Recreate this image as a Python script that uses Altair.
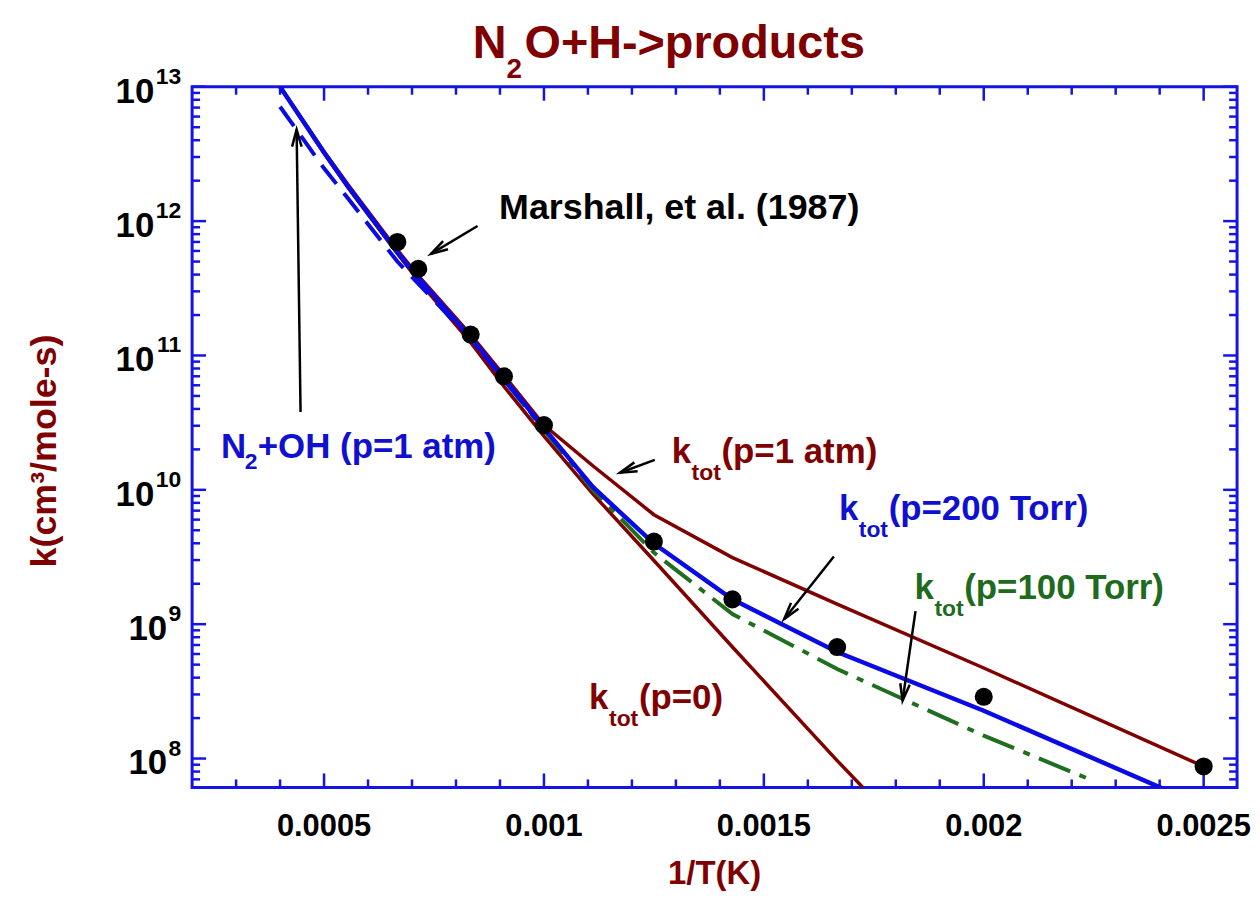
import math
import altair as alt
import pandas as pd

# ---------------- data ----------------
# curves: temperature nodes (K) and rate constants k (cm3/mole-s)
T_200torr = [2500, 2000, 1800, 1500, 1400, 1200, 1100, 1000, 900, 800, 700, 600, 500, 400]
k_200torr = [1.0e13, 3.24e12, 1.79e12, 5.85e11, 3.78e11, 1.36e11, 6.76e10, 2.88e10,
             1.05e10, 3.98e9, 1.53e9, 6.2e8, 2.27e8, 4.41e7]

T_1atm = [2500, 2000, 1800, 1500, 1400, 1200, 1100, 1000, 900, 800, 700, 600, 500, 400]
k_1atm = [1.0e13, 3.3e12, 1.85e12, 6.1e11, 3.92e11, 1.43e11, 7.11e10, 3.03e10,
          1.51e10, 6.53e9, 3.13e9, 1.41e9, 4.72e8, 8.73e7]

T_p0 = [2500, 2000, 1800, 1500, 1400, 1200, 1100, 1000, 900, 800, 700, 600, 500]
k_p0 = [1.0e13, 3.2e12, 1.76e12, 5.75e11, 3.6e11, 1.25e11, 5.89e10, 2.51e10,
        9.33e9, 2.98e9, 6.76e8, 9.66e7, 6.98e6]

T_100torr = [1100, 1000, 900, 800, 700, 600, 500, 444]
k_100torr = [6.6e10, 2.78e10, 1.0e10, 3.41e9, 1.19e9, 4.64e8, 1.48e8, 6.76e7]

T_n2oh = [2500, 2000, 1800, 1500, 1200, 1000]
k_n2oh = [7.1e12, 2.47e12, 1.46e12, 5.0e11, 1.33e11, 2.85e10]

# Marshall et al. (1987) measurements
T_marshall = [1500, 1400, 1200, 1100, 1000, 800, 700, 600, 500, 400]
k_marshall = [6.99e11, 4.41e11, 1.43e11, 6.99e10, 3.03e10, 4.12e9, 1.53e9, 6.76e8, 2.88e8, 8.73e7]

# axis ticks / labels
x_major = [0.0005, 0.001, 0.0015, 0.002, 0.0025]
x_labels = ["0.0005", "0.001", "0.0015", "0.002", "0.0025"]
x_minor = [round(i * 1e-4, 4) for i in range(3, 26) if i % 5 != 0]
y_exps = [13, 12, 11, 10, 9, 8]
y_major = [10.0 ** e for e in y_exps]
y_minor = [m * 10.0 ** e for e in range(7, 13) for m in range(2, 10) if 6.1e7 <= m * 10.0 ** e <= 1e13]

# annotations (data coordinates: 1/T, k)
arrow_tail_x = [0.000849, 0.0004466, 0.001252, 0.0016592, 0.0018448]
arrow_tail_k = [9.19e11, 3.79e10, 1.67e10, 3.19e9, 1.25e9]
arrow_tip_x = [0.000743, 0.0004376, 0.001173, 0.0015461, 0.0018154]
arrow_tip_k = [5.7e11, 4.8e12, 1.34e10, 1.09e9, 2.69e8]

ktot_text = ["(p=1 atm)", "(p=200 Torr)", "(p=100 Torr)", "(p=0)"]
ktot_x = [0.0012905, 0.0016706, 0.0018425, 0.0011027]
ktot_k = [1.585e10, 5.99e9, 1.53e9, 2.34e8]

marshall_label = "Marshall, et al. (1987)"
marshall_x, marshall_k = 0.000898, 1.03e12
n2oh_parts = ["N", "2", "+OH (p=1 atm)"]
n2oh_x, n2oh_k = 0.0002656, 1.73e10

# ---------------- styling ----------------
FONT = "Liberation Sans"
BROWN = "#800000"
BLUE = "#0a0ae6"
FRAME = "#1414e6"
GREEN = "#1f6f1f"
TXT_BLUE = "#1010d0"
TXT_GREEN = "#1e6b1e"
ktot_color = [BROWN, TXT_BLUE, TXT_GREEN, BROWN]

W, H = 1050, 704
X_DOMAIN = [0.0002, 0.002576]
Y_DOMAIN = [6.1e7, 1e13]
xs = alt.Scale(domain=X_DOMAIN, nice=False, zero=False)
ys = alt.Scale(type="log", domain=Y_DOMAIN, nice=False)


def X(field="x"):
    return alt.X(f"{field}:Q", scale=xs, axis=None)


def Y(field="k"):
    return alt.Y(f"{field}:Q", scale=ys, axis=None)


def series_df(T, k):
    return pd.DataFrame({"x": [1.0 / t for t in T], "k": k})


def px(v):
    return (v - X_DOMAIN[0]) / (X_DOMAIN[1] - X_DOMAIN[0]) * W


def py(k):
    lo, hi = math.log10(Y_DOMAIN[0]), math.log10(Y_DOMAIN[1])
    return (hi - math.log10(k)) / (hi - lo) * H


# ---------------- frame ticks (inward, all four sides) ----------------
MAJ, MIN = 14, 8
tick_style = dict(color=FRAME, strokeWidth=2.5)

dfxM = pd.DataFrame({"x": x_major, "lab": x_labels})
dfxm = pd.DataFrame({"x": x_minor})
dfyM = pd.DataFrame({"k": y_major})
dfym = pd.DataFrame({"k": y_minor})

ticks = [
    alt.Chart(dfxM).mark_rule(**tick_style).encode(x=X(), y=alt.value(H), y2=alt.value(H - MAJ)),
    alt.Chart(dfxm).mark_rule(**tick_style).encode(x=X(), y=alt.value(H), y2=alt.value(H - MIN)),
    alt.Chart(dfxM).mark_rule(**tick_style).encode(x=X(), y=alt.value(0), y2=alt.value(MAJ)),
    alt.Chart(dfxm).mark_rule(**tick_style).encode(x=X(), y=alt.value(0), y2=alt.value(MIN)),
    alt.Chart(dfyM).mark_rule(**tick_style).encode(y=Y(), x=alt.value(0), x2=alt.value(MAJ)),
    alt.Chart(dfym).mark_rule(**tick_style).encode(y=Y(), x=alt.value(0), x2=alt.value(MIN)),
    alt.Chart(dfyM).mark_rule(**tick_style).encode(y=Y(), x=alt.value(W), x2=alt.value(W - MAJ)),
    alt.Chart(dfym).mark_rule(**tick_style).encode(y=Y(), x=alt.value(W), x2=alt.value(W - MIN)),
]

# x tick labels
xlabels = [
    alt.Chart(dfxM).mark_text(font=FONT, fontWeight="bold", fontSize=31, color="black",
                              align="center", baseline="alphabetic").encode(
        x=X(), y=alt.value(H + 49), text="lab:N"),
]

# y tick labels 10^n
dfyl = pd.DataFrame({"k": y_major, "exp": [str(e) for e in y_exps]})
dfyl2 = dfyl[dfyl["exp"].str.len() == 2]
dfyl1 = dfyl[dfyl["exp"].str.len() == 1]
lab_style = dict(font=FONT, fontWeight="bold", color="black", align="right", baseline="middle")
ylabels = [
    alt.Chart(dfyl2).mark_text(fontSize=35, dy=5, dx=-27, **lab_style).encode(
        y=Y(), x=alt.value(-11), text=alt.value("10")),
    alt.Chart(dfyl1).mark_text(fontSize=35, dy=5, dx=-14, **lab_style).encode(
        y=Y(), x=alt.value(-11), text=alt.value("10")),
    alt.Chart(dfyl).mark_text(fontSize=23, dy=-10, **lab_style).encode(
        y=Y(), x=alt.value(-11), text="exp:N"),
]

# ---------------- curves ----------------
curves = [
    alt.Chart(series_df(T_p0, k_p0)).mark_line(color=BROWN, strokeWidth=3.5, clip=True).encode(x=X(), y=Y()),
    alt.Chart(series_df(T_1atm, k_1atm)).mark_line(color=BROWN, strokeWidth=3.5, clip=True).encode(x=X(), y=Y()),
    alt.Chart(series_df(T_100torr, k_100torr)).mark_line(
        color=GREEN, strokeWidth=4, strokeDash=[34, 10, 7, 10], clip=True).encode(x=X(), y=Y()),
    alt.Chart(series_df(T_n2oh, k_n2oh)).mark_line(
        color=BLUE, strokeWidth=4, strokeDash=[24, 12], clip=True).encode(x=X(), y=Y()),
    alt.Chart(series_df(T_200torr, k_200torr)).mark_line(color=BLUE, strokeWidth=4.5, clip=True).encode(x=X(), y=Y()),
    alt.Chart(series_df(T_marshall, k_marshall)).mark_circle(size=330, color="black", opacity=1).encode(x=X(), y=Y()),
]

# ---------------- arrows ----------------
arrows = pd.DataFrame({"x1": arrow_tail_x, "k1": arrow_tail_k, "x2": arrow_tip_x, "k2": arrow_tip_k})
arrows["ang"] = [
    math.degrees(math.atan2(px(b) - px(a), -(py(d) - py(c)))) % 360
    for a, b, c, d in zip(arrows["x1"], arrows["x2"], arrows["k1"], arrows["k2"])
]
arrow_layers = [
    alt.Chart(arrows).mark_rule(color="black", strokeWidth=2.5).encode(
        x=X("x1"), y=Y("k1"), x2="x2:Q", y2="k2:Q"),
    alt.Chart(arrows).mark_point(shape="M -0.42 1.5 L 0 0 L 0.42 1.5", filled=False, size=520,
                                 strokeWidth=2.5, color="black", opacity=1).encode(
        x=X("x2"), y=Y("k2"), angle=alt.Angle("ang:Q", scale=None)),
]

# ---------------- text labels ----------------
txt = dict(font=FONT, fontWeight="bold", align="left", baseline="alphabetic")
dfk = pd.DataFrame({"x": ktot_x, "k": ktot_k, "t": ktot_text, "c": ktot_color})
labels = [
    alt.Chart(dfk).mark_text(fontSize=35, **txt).encode(
        x=X(), y=Y(), text=alt.value("k"), color=alt.Color("c:N", scale=None)),
    alt.Chart(dfk).mark_text(fontSize=23, dx=20, dy=17, **txt).encode(
        x=X(), y=Y(), text=alt.value("tot"), color=alt.Color("c:N", scale=None)),
    alt.Chart(dfk).mark_text(fontSize=35, dx=50, **txt).encode(
        x=X(), y=Y(), text="t:N", color=alt.Color("c:N", scale=None)),
    alt.Chart(pd.DataFrame({"x": [marshall_x], "k": [marshall_k], "t": [marshall_label]})).mark_text(
        fontSize=36, color="black", **txt).encode(x=X(), y=Y(), text="t:N"),
]
dfn = pd.DataFrame({"x": [n2oh_x], "k": [n2oh_k]})
labels += [
    alt.Chart(dfn).mark_text(fontSize=35, color=TXT_BLUE, **txt).encode(x=X(), y=Y(), text=alt.value(n2oh_parts[0])),
    alt.Chart(dfn).mark_text(fontSize=23, dx=24, dy=11, color=TXT_BLUE, **txt).encode(x=X(), y=Y(), text=alt.value(n2oh_parts[1])),
    alt.Chart(dfn).mark_text(fontSize=35, dx=37, color=TXT_BLUE, **txt).encode(x=X(), y=Y(), text=alt.value(n2oh_parts[2])),
]

# ---------------- titles ----------------
one = pd.DataFrame({"a": [0]})
titles = [
    alt.Chart(one).mark_text(fontSize=47, color=BROWN, **txt).encode(
        x=alt.value(282), y=alt.value(-29), text=alt.value("N")),
    alt.Chart(one).mark_text(fontSize=28, color=BROWN, **txt).encode(
        x=alt.value(316), y=alt.value(-9), text=alt.value("2")),
    alt.Chart(one).mark_text(fontSize=47, color=BROWN, **txt).encode(
        x=alt.value(334), y=alt.value(-29), text=alt.value("O+H->products")),
    alt.Chart(one).mark_text(fontSize=33, color=BROWN, font=FONT, fontWeight="bold",
                             align="center", baseline="alphabetic").encode(
        x=alt.value(W / 2), y=alt.value(H + 97), text=alt.value("1/T(K)")),
    alt.Chart(one).mark_text(fontSize=36, color=BROWN, font=FONT, fontWeight="bold",
                             align="left", baseline="middle", angle=270).encode(
        x=alt.value(-148), y=alt.value(483), text=alt.value("k(cm³/mole-s)")),
]

chart = alt.layer(*ticks, *xlabels, *ylabels, *curves, *arrow_layers, *labels, *titles).properties(
    width=W, height=H,
    padding={"left": 185, "top": 77, "right": 15, "bottom": 107},
    autosize=alt.AutoSizeParams(type="none"),
).configure_view(stroke=FRAME, strokeWidth=3)

chart.save("out.html", embed_options={"renderer": "svg", "actions": False})
